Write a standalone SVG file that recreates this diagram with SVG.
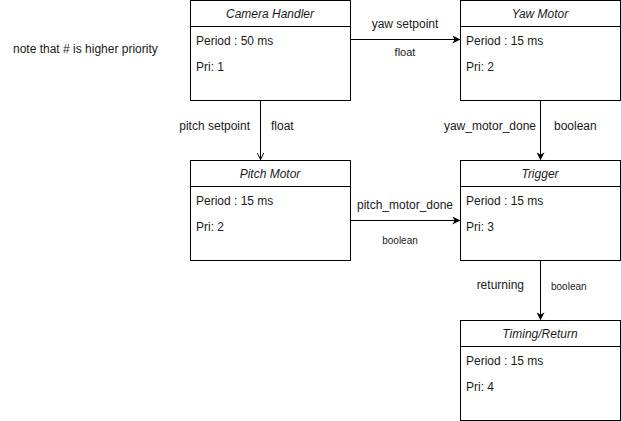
<svg xmlns="http://www.w3.org/2000/svg" width="621" height="421" viewBox="0 0 621 421">
<style>
text{font-family:"Liberation Sans",Arial,sans-serif;font-size:12px;fill:#1a1a1a}
.box{fill:#fff;stroke:#000;stroke-width:1}
.hd{font-style:italic;text-anchor:middle}
.lbl{text-anchor:middle}
.sm{font-size:11px}
.xs{font-size:10px}
.ln{stroke:#000;stroke-width:1;fill:none}
</style>
<defs>
<marker id="blk" viewBox="0 0 10 10" refX="9" refY="5" markerWidth="8" markerHeight="8" markerUnits="userSpaceOnUse" orient="auto"><path d="M0,0 L10,5 L0,10 L3,5 Z" fill="#000"/></marker>
<marker id="opn" viewBox="0 0 10 10" refX="9" refY="5" markerWidth="8" markerHeight="8" markerUnits="userSpaceOnUse" orient="auto"><path d="M1,1 L9,5 L1,9" fill="none" stroke="#000" stroke-width="1.2"/></marker>
</defs>
<rect width="621" height="421" fill="#fff"/>
<text x="13" y="53">note that # is higher priority</text>
<g id="camera-handler">
<rect class="box" x="190.5" y="0.5" width="160" height="100"/>
<line class="ln" x1="190.5" y1="26.5" x2="350.5" y2="26.5"/>
<text class="hd" x="270" y="18">Camera Handler</text>
<text x="196" y="45">Period : 50 ms</text>
<text x="196" y="71">Pri: 1</text>
</g>
<g id="yaw-motor">
<rect class="box" x="460.5" y="0.5" width="160" height="100"/>
<line class="ln" x1="460.5" y1="26.5" x2="620.5" y2="26.5"/>
<text class="hd" x="540" y="18">Yaw Motor</text>
<text x="466" y="45">Period : 15 ms</text>
<text x="466" y="71">Pri: 2</text>
</g>
<g id="pitch-motor">
<rect class="box" x="190.5" y="160.5" width="160" height="100"/>
<line class="ln" x1="190.5" y1="186.5" x2="350.5" y2="186.5"/>
<text class="hd" x="270" y="178">Pitch Motor</text>
<text x="196" y="205">Period : 15 ms</text>
<text x="196" y="231">Pri: 2</text>
</g>
<g id="trigger">
<rect class="box" x="460.5" y="160.5" width="160" height="100"/>
<line class="ln" x1="460.5" y1="186.5" x2="620.5" y2="186.5"/>
<text class="hd" x="540" y="178">Trigger</text>
<text x="466" y="205">Period : 15 ms</text>
<text x="466" y="231">Pri: 3</text>
</g>
<g id="timing-return">
<rect class="box" x="460.5" y="320.5" width="160" height="100"/>
<line class="ln" x1="460.5" y1="346.5" x2="620.5" y2="346.5"/>
<text class="hd" x="540" y="338">Timing/Return</text>
<text x="466" y="365">Period : 15 ms</text>
<text x="466" y="391">Pri: 4</text>
</g>
<g id="connectors">
<line class="ln" x1="350.5" y1="39.5" x2="459.5" y2="39.5" marker-end="url(#blk)"/>
<text class="lbl" x="405" y="28">yaw setpoint</text>
<text class="lbl sm" x="405" y="56">float</text>
<line class="ln" x1="260.5" y1="100.5" x2="260.5" y2="159.5" marker-end="url(#opn)"/>
<text x="250" y="130" text-anchor="end">pitch setpoint</text>
<text x="271" y="130">float</text>
<line class="ln" x1="540.5" y1="100.5" x2="540.5" y2="159.5" marker-end="url(#blk)"/>
<text x="536" y="130" text-anchor="end">yaw_motor_done</text>
<text x="554" y="130">boolean</text>
<line class="ln" x1="350.5" y1="220.5" x2="459.5" y2="220.5" marker-end="url(#blk)"/>
<text class="lbl" x="405" y="209">pitch_motor_done</text>
<text class="lbl xs" x="400" y="244">boolean</text>
<line class="ln" x1="540.5" y1="260.5" x2="540.5" y2="319.5" marker-end="url(#blk)"/>
<text x="524" y="289" text-anchor="end">returning</text>
<text class="xs" x="551" y="290">boolean</text>
</g>
</svg>
